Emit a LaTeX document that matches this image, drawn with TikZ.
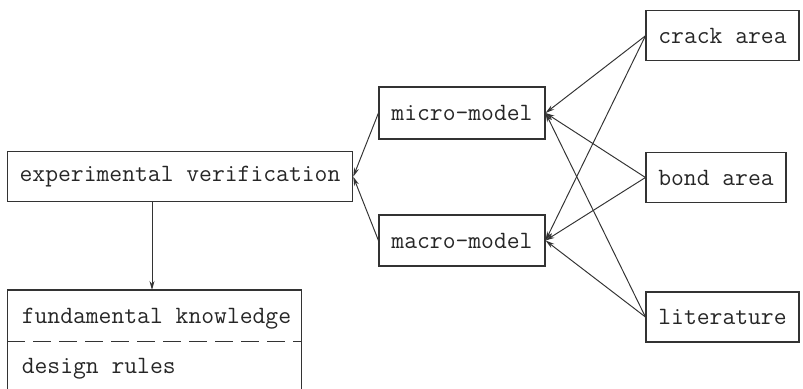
\documentclass[tikz,border=0pt]{standalone}
\usepackage{fontspec}
\usetikzlibrary{arrows.meta}
\newcommand\labelfont{\fontsize{18}{21}\selectfont\ttfamily}

\begin{document}
\begin{tikzpicture}[x=1in,y=1in,
  box/.style={draw=black!80, line width=0.8pt, minimum height=0.5in, inner sep=0pt, text=black!85, font=\labelfont},
  feed/.style={draw=black!80, line width=0.7pt, -{Stealth[length=0.09in,width=0.05in]}},
  plain/.style={text=black!85, font=\labelfont, inner sep=0pt}]
\useasboundingbox (0,0) rectangle (8.03,3.89);
% sources on the right
\node[box, minimum width=1.53in] (crack) at (7.225,3.532) {crack area};
\node[box, minimum width=1.40in] (bond) at (7.160,2.115) {bond area};
\node[box, minimum width=1.53in] (lit) at (7.225,0.720) {literature};
% models
\node[box, minimum width=1.66in, minimum height=0.52in] (micro) at (4.620,2.760) {micro-model};
\node[box, minimum width=1.66in, minimum height=0.51in] (macro) at (4.620,1.485) {macro-model};
% verification
\node[box, minimum width=3.454in] (exp) at (1.800,2.123) {experimental verification};
% open box at the bottom
\coordinate (fundbl) at (0.073,-0.05);
\coordinate (fundtl) at (0.073,0.990);
\coordinate (fundtr) at (3.017,0.990);
\coordinate (fundbr) at (3.017,-0.05);
\coordinate (know) at (1.520,0.990);
\draw[black!80, line width=0.8pt] (fundbl) -- (fundtl) -- (fundtr) -- (fundbr);
\draw[black!80, line width=0.8pt, dash pattern=on 0.18in off 0.08in] (0.073,0.473) -- (3.017,0.473);
\node[plain, anchor=base west] (fund) at (0.215,0.650) {fundamental knowledge};
\node[plain, anchor=base west] (rules) at (0.215,0.150) {design rules};
% connectors
\draw[feed] (crack.west) -- (micro.east);
\draw[feed] (crack.west) -- (macro.east);
\draw[feed] (bond.west) -- (micro.east);
\draw[feed] (bond.west) -- (macro.east);
\draw[feed] (lit.west) -- (micro.east);
\draw[feed] (lit.west) -- (macro.east);
\draw[feed] (micro.west) -- (exp.east);
\draw[feed] (macro.west) -- (exp.east);
\draw[feed] (exp.south -| know) -- (know);
\end{tikzpicture}
\end{document}
